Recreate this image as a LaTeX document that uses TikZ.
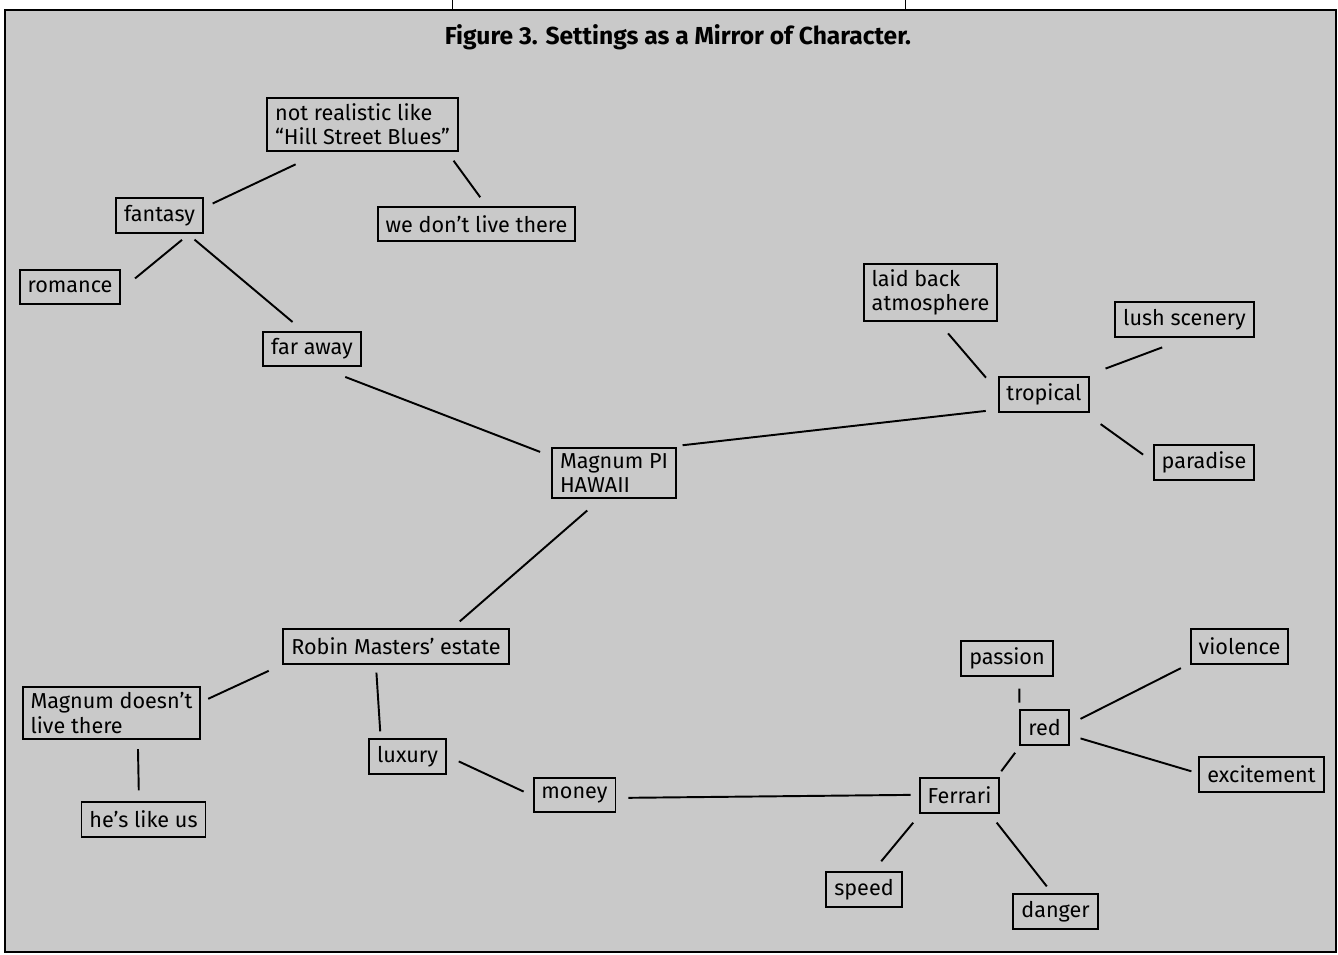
\documentclass[tikz,border=0pt]{standalone}
\usepackage{fontspec}
\setmainfont{Fira Sans}
\usepackage{xcolor}
\usepackage{tikz}
\usetikzlibrary{shapes,calc}
\definecolor{paper}{gray}{0.79}
\tikzstyle{tsText} = [
    text=black,
    font=\fontsize{12.3}{13.7}\selectfont
]
\tikzstyle{tsTitle} = [
    text=black,
    font=\bfseries\fontsize{14}{16}\selectfont
]
\tikzstyle{tsBox} = [
    rectangle,
    tsText,
    align=left,
    draw=black,
    line width=1.1pt,
    inner xsep=4.5pt,
    inner ysep=3.4pt,
    minimum height=19.5pt]
\tikzstyle{tsLink} = [
    draw=black,
    line width=1.1pt]

\begin{document}
\begin{tikzpicture}[x=0.02cm, y=-0.02cm]

        \useasboundingbox (0,0) rectangle (1338,954);
        % frame and the two marks above it
        \draw[line width=1.2pt, fill=paper] (5,10) rectangle (1336,952);
        \draw[line width=0.5pt] (452,0) -- (452,10);
        \draw[line width=0.5pt] (905,0) -- (905,10);

        \node[tsTitle] (title) at (678,37) {Figure 3. Settings as a Mirror of Character.};

        \node[tsBox] (notreal)  at (362.5,124.5) {not realistic like\\“Hill Street Blues”};
        \node[tsBox] (fantasy)  at (159.5,215.5) {fantasy};
        \node[tsBox] (wedont)   at (476.5,224)   {we don’t live there};
        \node[tsBox] (romance)  at (70,287)      {romance};
        \node[tsBox] (faraway)  at (312,349)     {far away};
        \node[tsBox] (magnum)   at (614,473)     {Magnum PI\\HAWAII};

        \node[tsBox] (laidback) at (930.5,292.5) {laid back\\atmosphere};
        \node[tsBox] (lush)     at (1184.5,319.5) {lush scenery};
        \node[tsBox] (tropical) at (1044,394.5)  {tropical};
        \node[tsBox] (paradise) at (1204,462.5)  {paradise};

        \node[tsBox] (robin)    at (396,646.5)   {Robin Masters’ estate};
        \node[tsBox] (notlive)  at (111.5,713)   {Magnum doesn’t\\live there};
        \node[tsBox] (likeus)   at (143.5,819.5) {he’s like us};
        \node[tsBox] (luxury)   at (407.5,756.5) {luxury};
        \node[tsBox] (money)    at (574.5,795)   {money};

        \node[tsBox] (ferrari)  at (959.5,795.5) {Ferrari};
        \node[tsBox] (passion)  at (1007,658.5)  {passion};
        \node[tsBox] (violence) at (1239.5,646.5) {violence};
        \node[tsBox] (red)      at (1044.5,727.5) {red};
        \node[tsBox] (excite)   at (1261.5,774.5) {excitement};
        \node[tsBox] (speed)    at (864,889.5)   {speed};
        \node[tsBox] (danger)   at (1055.5,911.5) {danger};

        % links, each stopping short of its boxes
        \draw[tsLink, shorten <=5.6pt, shorten >=16.4pt] (fantasy.10) -- (notreal.214);
        \draw[tsLink, shorten <=6.1pt, shorten >=6.1pt] (notreal.-18) -- (wedont.61);
        \draw[tsLink, shorten <=5.6pt, shorten >=10.1pt] (fantasy.-31) -- (romance.-3);
        \draw[tsLink, shorten <=5.3pt, shorten >=7.9pt] (fantasy.-33) -- (faraway.116);
        \draw[tsLink, shorten <=15.6pt, shorten >=6.7pt] (faraway.-67) -- (magnum.165);
        \draw[tsLink, shorten <=6.8pt, shorten >=6.8pt] (magnum.25) -- (tropical.198);
        \draw[tsLink, shorten <=9.6pt, shorten >=6.1pt] (magnum.242) -- (robin.18);

        \draw[tsLink, shorten <=8.4pt, shorten >=10.2pt] (laidback.-75) -- (tropical.176);
        \draw[tsLink, shorten <=12.7pt, shorten >=15.9pt] (tropical.24) -- (lush.-78);
        \draw[tsLink, shorten <=11.2pt, shorten >=6.8pt] (tropical.-24) -- (paradise.179);

        \draw[tsLink, shorten <=8.6pt, shorten >=4.3pt] (robin.189) -- (notlive.7);
        \draw[tsLink, shorten <=4.6pt, shorten >=4pt] (robin.222) -- (luxury.146);
        \draw[tsLink, shorten <=5.1pt, shorten >=6.3pt] (notlive.-46) -- (likeus.104);
        \draw[tsLink, shorten <=7.5pt, shorten >=5.6pt] (luxury.1) -- (money.181);
        \draw[tsLink, shorten <=6.8pt, shorten >=4.6pt] (money.-4) -- (ferrari.179);

        \draw[tsLink, shorten <=6.8pt, shorten >=4.6pt] (passion.-56) -- (red.146);
        \draw[tsLink, shorten <=7pt, shorten >=5.7pt] (red.7) -- (violence.199);
        \draw[tsLink, shorten <=6.5pt, shorten >=4.2pt] (red.-17) -- (excite.179);
        \draw[tsLink, shorten <=5.1pt, shorten >=4.4pt] (red.217) -- (ferrari.26);
        \draw[tsLink, shorten <=6.7pt, shorten >=7.5pt] (ferrari.205) -- (speed.64);
        \draw[tsLink, shorten <=6.5pt, shorten >=5.1pt] (ferrari.-31) -- (danger.100);

\end{tikzpicture}
\end{document}
